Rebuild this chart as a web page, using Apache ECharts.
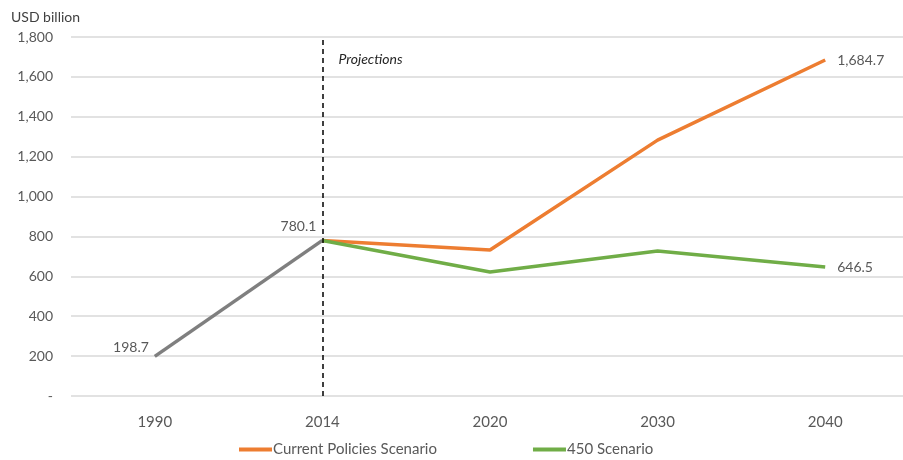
<!DOCTYPE html>
<html>
<head>
<meta charset="utf-8">
<script src="https://cdn.jsdelivr.net/npm/echarts@6/dist/echarts.min.js"></script>
<style>
  html, body { margin: 0; padding: 0; background: #fff; }
  #chart { width: 903px; height: 460px; }
</style>
</head>
<body>
<div id="chart"></div>
<script>
// categories and values
const years = ['1990', '2014', '2020', '2030', '2040'];
const historical = [198.7, 780.1, null, null, null];
const currentPolicies = [null, 780.1, 732, 1283, 1684.7];
const scenario450 = [null, 780.1, 622, 727, 646.5];
const yTicks = [0, 200, 400, 600, 800, 1000, 1200, 1400, 1600, 1800];

const font = 'Lato';
const txt = '#595959';

const chart = echarts.init(document.getElementById('chart'));

function withLabels(values, labelled) {
  // labelled: index -> label options
  return values.map((v, i) => labelled[i] ? { value: v, label: Object.assign({ show: true }, labelled[i]) } : v);
}

const labelStyle = {
  color: txt, fontFamily: font, fontSize: 14,
  formatter: p => p.value.toLocaleString('en-US', { minimumFractionDigits: 1 })
};

const option = {
  animation: false,
  title: {
    text: 'USD billion', left: 6, top: 5,
    textStyle: { fontFamily: font, fontSize: 14, fontWeight: 'normal', color: '#404040' }
  },
  grid: { left: 71, top: 37, width: 838, bottom: 64, outerBoundsMode: 'none', containLabel: false },
  legend: {
    bottom: -2, left: 234,
    data: ['Current Policies Scenario', '450 Scenario'],
    itemWidth: 33, itemHeight: 4, itemGap: 96,
    icon: 'rect',
    textStyle: { fontFamily: font, fontSize: 15, color: txt, padding: [0, 0, 0, -4] }
  },
  xAxis: {
    type: 'category', data: years, boundaryGap: true,
    axisLine: { show: false }, axisTick: { show: false },
    axisLabel: { margin: 19, fontFamily: font, fontSize: 15, color: txt }
  },
  yAxis: {
    type: 'value', min: 0, max: 1800, interval: 200,
    axisLine: { show: false }, axisTick: { show: false },
    splitLine: { lineStyle: { color: '#d9d9d9', width: 1.5 } },
    axisLabel: {
      margin: 18, fontFamily: font, fontSize: 14, color: txt,
      formatter: v => yTicks.includes(v) ? (v === 0 ? '-' : v.toLocaleString('en-US')) : ''
    }
  },
  series: [
    {
      name: 'Historical', type: 'line', data: withLabels(historical, {
        0: Object.assign({ position: 'left', distance: 6, offset: [0, -9] }, labelStyle),
        1: Object.assign({ position: 'left', distance: 6, offset: [0, -14] }, labelStyle)
      }),
      symbol: 'circle', symbolSize: 0, showSymbol: true,
      lineStyle: { color: '#7f7f7f', width: 3.5 }, itemStyle: { color: '#7f7f7f' },
      z: 3,
      markLine: {
        silent: true, symbol: 'none',
        lineStyle: { type: [5, 4], color: '#000', width: 1.5 },
        label: { show: false },
        data: [{ xAxis: '2014' }]
      },
      markPoint: {
        symbol: 'circle', symbolSize: 0,
        label: {
          show: true, position: 'right', distance: 16, formatter: 'Projections',
          fontFamily: font, fontStyle: 'italic', fontSize: 14, color: '#262626'
        },
        data: [{ coord: ['2014', 1688] }]
      }
    },
    {
      name: 'Current Policies Scenario', type: 'line',
      data: withLabels(currentPolicies, { 4: Object.assign({ position: 'right', distance: 12 }, labelStyle) }),
      symbol: 'circle', symbolSize: 0, showSymbol: true,
      lineStyle: { color: '#ed7d31', width: 3.5 }, itemStyle: { color: '#ed7d31' }
    },
    {
      name: '450 Scenario', type: 'line',
      data: withLabels(scenario450, { 4: Object.assign({ position: 'right', distance: 12 }, labelStyle) }),
      symbol: 'circle', symbolSize: 0, showSymbol: true,
      lineStyle: { color: '#70ad47', width: 3.5 }, itemStyle: { color: '#70ad47' }
    }
  ]
};

chart.setOption(option);
</script>
</body>
</html>
